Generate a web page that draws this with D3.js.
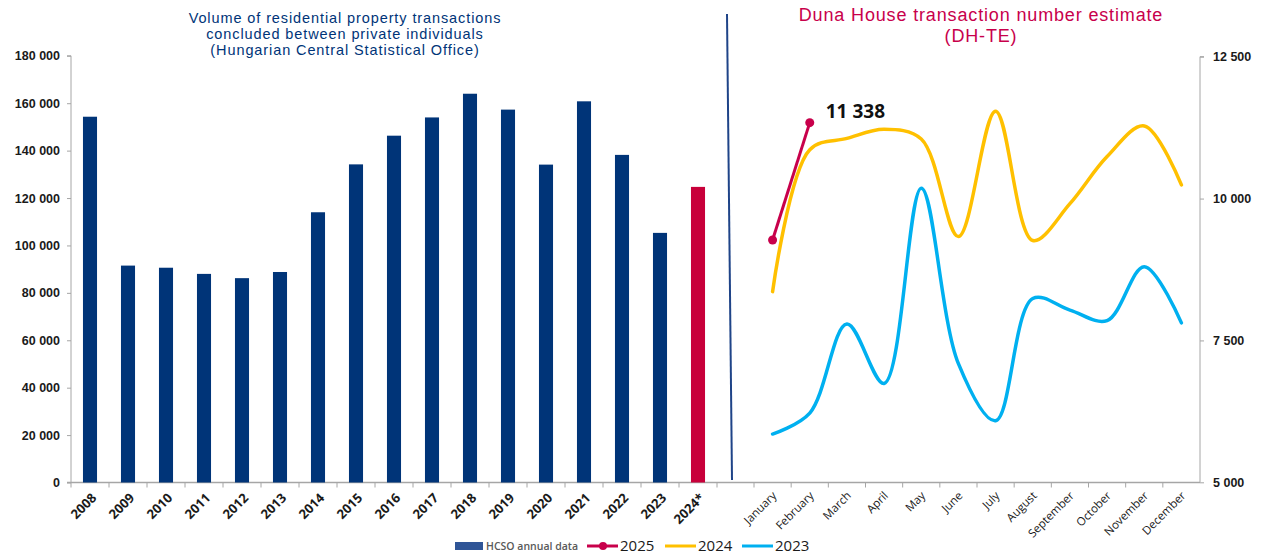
<!DOCTYPE html>
<html>
<head>
<meta charset="utf-8">
<script src="https://cdn.jsdelivr.net/npm/d3@7"></script>
<style>
  body { margin: 0; background: #fff; }
  svg { display: block; font-family: "Open Sans", sans-serif; }
  .title { font-family: "Liberation Sans", Arial, sans-serif; }
</style>
</head>
<body>
<script>
// left chart: HCSO yearly volumes
const years = ["2008", "2009", "2010", "2011", "2012", "2013", "2014", "2015", "2016",
               "2017", "2018", "2019", "2020", "2021", "2022", "2023", "2024*"];
const hcso = [154300, 91500, 90600, 88000, 86200, 88800, 114000, 134200, 146300,
              154000, 164000, 157300, 134100, 160800, 138200, 105300, 124700];
const leftTicks = [0, 20000, 40000, 60000, 80000, 100000, 120000, 140000, 160000, 180000];

// right chart: DH-TE monthly estimate
const months = ["January", "February", "March", "April", "May", "June", "July",
                "August", "September", "October", "November", "December"];
const dh2025 = [9270, 11338];
const dh2024 = [8360, 10860, 11060, 11220, 11050, 9330, 11540, 9260, 9910, 10740, 11280, 10240];
const dh2023 = [5850, 6220, 7790, 6740, 10180, 7090, 6085, 8240, 8035, 7850, 8800, 7810];
const rightTicks = [5000, 7500, 10000, 12500];

const width = 1274, height = 555;
const navy = "#003478", crimson = "#c8003a",
      red25 = "#c8004b", yellow = "#ffc000", cyan = "#00b0f0",
      axisGrey = "#a6a6a6";

const fmt = d => d3.format(",")(d).replace(/,/g, " ");

const svg = d3.select("body").append("svg")
  .attr("width", width)
  .attr("height", height);

// scales (left has an extra empty slot before the monthly part)
const x = d3.scaleBand()
  .domain(years.concat([""]))
  .range([71, 755])
  .paddingInner(0.63)
  .paddingOuter(0.315);

const y = d3.scaleLinear()
  .domain([0, 180000])
  .range([482.5, 55.8]);

const xm = d3.scalePoint()
  .domain(months)
  .range([754, 1200])
  .padding(0.5);

const yr = d3.scaleLinear()
  .domain([5000, 12500])
  .range([482.3, 56.7]);

// left axis
const yAxis = svg.append("g")
  .attr("transform", "translate(71,0)")
  .call(d3.axisLeft(y).tickValues(leftTicks).tickFormat(fmt).tickSize(4).tickPadding(7));
yAxis.select(".domain").attr("stroke", axisGrey).attr("d", `M-4,${y(180000)}H0V${y(0)}`);
yAxis.selectAll(".tick line").attr("stroke", axisGrey);
yAxis.selectAll(".tick text")
  .attr("fill", "#1a1a1a")
  .style("font-size", "12.5px")
  .style("font-weight", 700);

// right axis
const yrAxis = svg.append("g")
  .attr("transform", "translate(1200,0)")
  .call(d3.axisRight(yr).tickValues(rightTicks).tickFormat(fmt).tickSize(4).tickPadding(9));
yrAxis.select(".domain").attr("stroke", axisGrey).attr("d", `M4,${yr(12500)}H0V${yr(5000)}`);
yrAxis.selectAll(".tick line").attr("stroke", axisGrey);
yrAxis.selectAll(".tick text")
  .attr("fill", "#1a1a1a")
  .style("font-size", "12.5px")
  .style("font-weight", 700);

// bottom axis line with boundary ticks
const base = svg.append("g").attr("stroke", axisGrey);
base.append("line")
  .attr("x1", 67).attr("x2", 1200)
  .attr("y1", y(0)).attr("y2", y(0))
  .attr("stroke-width", 1.5);
const yearBounds = d3.range(x.domain().length).map(i => 71 + i * x.step());
const monthStep = (1200 - 754) / months.length;
const monthBounds = d3.range(months.length).map(i => 754 + i * monthStep);
base.selectAll(".tk")
  .data(yearBounds.concat(monthBounds))
  .join("line")
    .attr("x1", d => d).attr("x2", d => d)
    .attr("y1", y(0)).attr("y2", y(0) + 5);

// bars
svg.append("g")
  .selectAll("rect")
  .data(hcso)
  .join("rect")
    .attr("x", (d, i) => x(years[i]))
    .attr("y", d => y(d))
    .attr("width", x.bandwidth())
    .attr("height", d => y(0) - y(d))
    .attr("fill", (d, i) => years[i] == "2024*" ? crimson : navy);

// year labels
svg.append("g")
  .selectAll("text")
  .data(years)
  .join("text")
    .attr("transform", d => `translate(${x(d) + x.bandwidth() / 2 + 4},${y(0) + 13}) rotate(-45)`)
    .attr("text-anchor", "end")
    .attr("dy", "0.35em")
    .attr("fill", "#1a1a1a")
    .style("font-size", "13px")
    .style("font-weight", 700)
    .text(d => d);

// month labels
svg.append("g")
  .selectAll("text")
  .data(months)
  .join("text")
    .attr("transform", d => `translate(${xm(d) + 2},${y(0) + 11}) rotate(-45)`)
    .attr("text-anchor", "end")
    .attr("dy", "0.35em")
    .attr("fill", "#1a1a1a")
    .style("font-size", "11.5px")
    .text(d => d);

// divider
svg.append("line")
  .attr("x1", 727).attr("y1", 14)
  .attr("x2", 732).attr("y2", 480)
  .attr("stroke", "#1f4488")
  .attr("stroke-width", 2);

// lines
const line = d3.line()
  .x((d, i) => xm(months[i]))
  .y(d => yr(d))
  .curve(d3.curveCatmullRom);

[[dh2023, cyan], [dh2024, yellow]].forEach(function(s){
  svg.append("path")
    .datum(s[0])
    .attr("fill", "none")
    .attr("stroke", s[1])
    .attr("stroke-width", 3.5)
    .attr("stroke-linecap", "round")
    .attr("d", line);
});

svg.append("path")
  .datum(dh2025)
  .attr("fill", "none")
  .attr("stroke", red25)
  .attr("stroke-width", 3)
  .attr("d", d3.line().x((d, i) => xm(months[i])).y(d => yr(d)));

svg.append("g")
  .selectAll("circle")
  .data(dh2025)
  .join("circle")
    .attr("cx", (d, i) => xm(months[i]))
    .attr("cy", d => yr(d))
    .attr("r", 4.5)
    .attr("fill", red25);

svg.append("text")
  .attr("x", xm(months[1]) + 16)
  .attr("y", yr(dh2025[1]) - 5)
  .attr("fill", "#111")
  .style("font-size", "19px")
  .style("font-weight", 700)
  .text(fmt(dh2025[1]));

// titles
const leftTitle = ["Volume of residential property transactions",
                   "concluded between private individuals",
                   "(Hungarian Central Statistical Office)"];
svg.append("g")
  .attr("class", "title")
  .selectAll("text")
  .data(leftTitle)
  .join("text")
    .attr("x", 345)
    .attr("y", (d, i) => 22.5 + i * 16.4)
    .attr("text-anchor", "middle")
    .attr("fill", navy)
    .style("font-size", "14.5px")
    .style("letter-spacing", "0.9px")
    .text(d => d);

const rightTitle = ["Duna House transaction number estimate", "(DH-TE)"];
svg.append("g")
  .attr("class", "title")
  .selectAll("text")
  .data(rightTitle)
  .join("text")
    .attr("x", 981)
    .attr("y", (d, i) => 21 + i * 21)
    .attr("text-anchor", "middle")
    .attr("fill", red25)
    .style("font-size", "18px")
    .style("letter-spacing", "0.85px")
    .text(d => d);

// legend
const legend = svg.append("g").attr("transform", "translate(0,546)");
legend.append("rect")
  .attr("x", 455).attr("y", -4)
  .attr("width", 28).attr("height", 8)
  .attr("fill", "#2f5597");
legend.append("text")
  .attr("x", 486).attr("dy", "0.35em")
  .attr("fill", "#595959")
  .style("font-size", "10.5px")
  .style("font-weight", 600)
  .text("HCSO annual data");

const legendLines = [["2025", red25, 587], ["2024", yellow, 665], ["2023", cyan, 742]];
legendLines.forEach(function(d){
  legend.append("line")
    .attr("x1", d[2]).attr("x2", d[2] + 31)
    .attr("stroke", d[1])
    .attr("stroke-width", 3);
  if (d[0] == "2025") {
    legend.append("circle")
      .attr("cx", d[2] + 16).attr("r", 4)
      .attr("fill", d[1]);
  }
  legend.append("text")
    .attr("x", d[2] + 33).attr("dy", "0.36em")
    .attr("fill", "#1a1a1a")
    .style("font-size", "15px")
    .text(d[0]);
});
</script>
</body>
</html>
